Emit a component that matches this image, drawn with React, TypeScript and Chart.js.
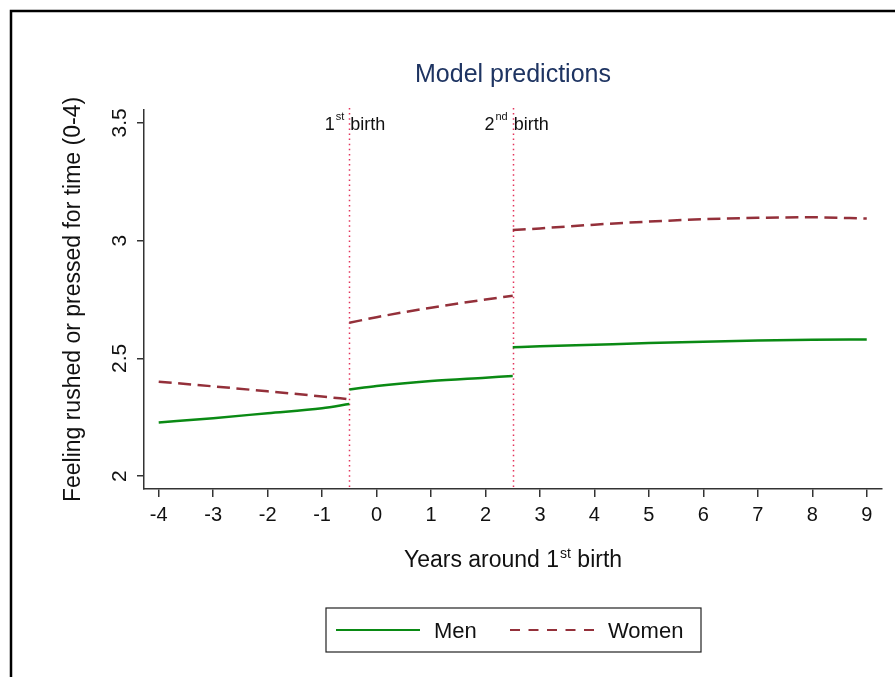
import React, { useEffect, useRef } from 'react';
import { Chart, registerables } from 'chart.js';

Chart.register(...registerables);

// ---- data ----
const yearsBefore = [-4, -3, -2, -1, -0.5];
const yearsBetween = [-0.5, 0, 1, 2, 2.5];
const yearsAfter = [2.5, 3, 4, 5, 6, 7, 8, 9];

const menBefore = [2.228, 2.246, 2.267, 2.288, 2.306];
const menBetween = [2.368, 2.383, 2.404, 2.418, 2.425];
const menAfter = [2.547, 2.551, 2.558, 2.565, 2.571, 2.576, 2.579, 2.58];

const womenBefore = [2.401, 2.381, 2.36, 2.338, 2.326];
const womenBetween = [2.651, 2.675, 2.715, 2.75, 2.766];
const womenAfter = [3.045, 3.052, 3.068, 3.081, 3.091, 3.097, 3.099, 3.094];

const xTicks = [-4, -3, -2, -1, 0, 1, 2, 3, 4, 5, 6, 7, 8, 9];
const yTicks = [2, 2.5, 3, 3.5];
const birthLines = [-0.5, 2.5];
const birthOrdinals = ['1', '2'];
const birthSuffixes = ['st', 'nd'];
const seriesNames = ['Men', 'Women'];

const chartTitle = 'Model predictions';
const yTitle = 'Feeling rushed or pressed for time (0-4)';
const xTitleMain = 'Years around 1';
const xTitleSup = 'st';
const xTitleEnd = ' birth';

const FONT = '"Liberation Sans", Arial, Helvetica, sans-serif';
const MEN_COLOR = '#0a8a14';
const WOMEN_COLOR = '#94303a';
const WOMEN_DASH = [13, 6.5];

function buildPoints(xsList: number[][], ysList: number[][]) {
  const pts: { x: number; y: number | null }[] = [];
  xsList.forEach((xs, si) => {
    if (si > 0) pts.push({ x: xs[0], y: null });
    xs.forEach((x, i) => pts.push({ x, y: ysList[si][i] }));
  });
  return pts;
}

const decor = {
  id: 'decor',
  beforeDatasetsDraw(chart: any) {
    const { ctx, chartArea, scales } = chart;
    ctx.save();
    ctx.strokeStyle = '#e3345c';
    ctx.lineWidth = 1.5;
    ctx.setLineDash([1.5, 3.6]);
    birthLines.forEach((v) => {
      const px = Math.round(scales.x.getPixelForValue(v)) + 0.5;
      ctx.beginPath();
      ctx.moveTo(px, chartArea.top - 2);
      ctx.lineTo(px, chartArea.bottom - 2);
      ctx.stroke();
    });
    ctx.restore();
  },
  afterDraw(chart: any) {
    const { ctx, chartArea, scales } = chart;
    const cx = (chartArea.left + chartArea.right) / 2;
    const cy = (chartArea.top + chartArea.bottom) / 2;
    ctx.save();

    // outer frame
    ctx.strokeStyle = '#000';
    ctx.lineWidth = 2.5;
    ctx.setLineDash([]);
    ctx.beginPath();
    ctx.moveTo(11, 700);
    ctx.lineTo(11, 11);
    ctx.lineTo(900, 11);
    ctx.stroke();

    // title
    ctx.fillStyle = '#1e3462';
    ctx.font = `25px ${FONT}`;
    ctx.textAlign = 'center';
    ctx.textBaseline = 'alphabetic';
    ctx.fillText(chartTitle, cx, 82);

    // y tick labels (rotated)
    ctx.fillStyle = '#111';
    ctx.font = `21px ${FONT}`;
    yTicks.forEach((v) => {
      const py = scales.y.getPixelForValue(v);
      ctx.save();
      ctx.translate(126, py);
      ctx.rotate(-Math.PI / 2);
      ctx.textAlign = 'center';
      ctx.textBaseline = 'alphabetic';
      ctx.fillText(String(v), 0, 0);
      ctx.restore();
    });

    // y title
    ctx.save();
    ctx.font = `23px ${FONT}`;
    ctx.translate(80, cy);
    ctx.rotate(-Math.PI / 2);
    ctx.textAlign = 'center';
    ctx.textBaseline = 'alphabetic';
    ctx.fillText(yTitle, 0, 0);
    ctx.restore();

    // x title with superscript
    ctx.textAlign = 'left';
    ctx.textBaseline = 'alphabetic';
    ctx.font = `23px ${FONT}`;
    const w1 = ctx.measureText(xTitleMain).width;
    const w3 = ctx.measureText(xTitleEnd).width;
    ctx.font = `14px ${FONT}`;
    const w2 = ctx.measureText(xTitleSup).width + 1;
    let sx = cx - (w1 + w2 + w3) / 2;
    const by = 567;
    ctx.font = `23px ${FONT}`;
    ctx.fillText(xTitleMain, sx, by);
    ctx.font = `14px ${FONT}`;
    ctx.fillText(xTitleSup, sx + w1 + 1, by - 9);
    ctx.font = `23px ${FONT}`;
    ctx.fillText(xTitleEnd, sx + w1 + w2, by);

    // birth labels
    birthLines.forEach((v, i) => {
      const px = scales.x.getPixelForValue(v);
      const bl = 130;
      ctx.font = `11px ${FONT}`;
      const sw = ctx.measureText(birthSuffixes[i]).width;
      ctx.textAlign = 'left';
      ctx.fillText(birthSuffixes[i], px - 5 - sw, bl - 10);
      ctx.font = `18px ${FONT}`;
      ctx.textAlign = 'right';
      ctx.fillText(birthOrdinals[i], px - 6 - sw, bl);
      ctx.textAlign = 'left';
      ctx.fillText('birth', px + 1, bl);
    });

    // legend
    const boxW = 375;
    const boxH = 44;
    const left = cx - boxW / 2 + 0.5;
    const top = 608;
    ctx.strokeStyle = '#222';
    ctx.lineWidth = 1.2;
    ctx.strokeRect(left, top, boxW, boxH);
    const ly = top + 22;
    ctx.lineWidth = 2.2;
    ctx.strokeStyle = MEN_COLOR;
    ctx.beginPath();
    ctx.moveTo(left + 10, ly);
    ctx.lineTo(left + 94, ly);
    ctx.stroke();
    ctx.strokeStyle = WOMEN_COLOR;
    ctx.setLineDash([10, 8.5]);
    ctx.beginPath();
    ctx.moveTo(left + 184, ly);
    ctx.lineTo(left + 270, ly);
    ctx.stroke();
    ctx.setLineDash([]);
    ctx.fillStyle = '#111';
    ctx.font = `22px ${FONT}`;
    ctx.textAlign = 'left';
    ctx.textBaseline = 'middle';
    ctx.fillText(seriesNames[0], left + 108, ly + 2);
    ctx.fillText(seriesNames[1], left + 282, ly + 2);

    ctx.restore();
  },
};

export default function App() {
  const ref = useRef<HTMLCanvasElement | null>(null);
  useEffect(() => {
    if (!ref.current) return;
    const chart = new Chart(ref.current, {
      type: 'line',
      data: {
        datasets: [
          {
            label: seriesNames[0],
            data: buildPoints([yearsBefore, yearsBetween, yearsAfter], [menBefore, menBetween, menAfter]) as any,
            borderColor: MEN_COLOR,
            borderWidth: 2.5,
            pointRadius: 0,
            cubicInterpolationMode: 'monotone',
            spanGaps: false,
            fill: false,
          },
          {
            label: seriesNames[1],
            data: buildPoints([yearsBefore, yearsBetween, yearsAfter], [womenBefore, womenBetween, womenAfter]) as any,
            borderColor: WOMEN_COLOR,
            borderWidth: 2.5,
            borderDash: WOMEN_DASH,
            pointRadius: 0,
            cubicInterpolationMode: 'monotone',
            spanGaps: false,
            fill: false,
          },
        ],
      },
      options: {
        responsive: false,
        animation: false,
        layout: { padding: { left: 0, top: 110, right: 13, bottom: 0 } },
        plugins: { legend: { display: false }, tooltip: { enabled: false }, title: { display: false } },
        scales: {
          x: {
            type: 'linear',
            min: -4.27,
            max: 9.28,
            afterBuildTicks: (s: any) => {
              s.ticks = xTicks.map((v) => ({ value: v }));
            },
            afterFit: (s: any) => {
              s.height = 188;
            },
            ticks: {
              color: '#111',
              font: { family: FONT, size: 20 },
              padding: 6,
              maxRotation: 0,
              autoSkip: false,
              callback: (v: any) => String(v),
            },
            grid: { display: true, drawOnChartArea: false, drawTicks: true, tickLength: 8, color: '#333', lineWidth: 1.5 },
            border: { display: true, color: '#333', width: 1.5 },
          },
          y: {
            type: 'linear',
            min: 1.945,
            max: 3.555,
            afterBuildTicks: (s: any) => {
              s.ticks = yTicks.map((v) => ({ value: v }));
            },
            afterFit: (s: any) => {
              s.width = 144;
            },
            ticks: { display: false },
            grid: { display: true, drawOnChartArea: false, drawTicks: true, tickLength: 7, color: '#333', lineWidth: 1.5 },
            border: { display: true, color: '#333', width: 1.5 },
          },
        },
      },
      plugins: [decor],
    });
    return () => chart.destroy();
  }, []);
  return (
    <div style={{ position: 'fixed', left: 0, top: 0, width: 895, height: 677, background: '#fff' }}>
      <canvas ref={ref} width={895} height={677} style={{ display: 'block' }} />
    </div>
  );
}
